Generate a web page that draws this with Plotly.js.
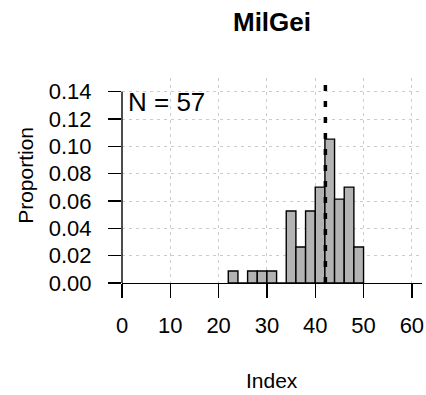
<!DOCTYPE html>
<html>
<head>
<meta charset="utf-8">
<script src="https://cdn.plot.ly/plotly-3.0.1.min.js"></script>
<style>
  html, body { margin: 0; padding: 0; background: #ffffff; }
  #chart { width: 426px; height: 395px; }
</style>
</head>
<body>
<div id="chart"></div>
<script>
// Histogram of the MilGei index: bins of width 2, counts per bin
const binStarts = [22, 24, 26, 28, 30, 32, 34, 36, 38, 40, 42, 44, 46, 48];
const binCounts = [1, 0, 1, 1, 1, 0, 6, 3, 6, 8, 12, 7, 8, 3];
const binWidth = 2;
const sampleSize = 57;
const referenceLine = 42.1;
const xTicks = [0, 10, 20, 30, 40, 50, 60];
const yTicks = [0, 0.02, 0.04, 0.06, 0.08, 0.10, 0.12, 0.14];
const yTickText = ['0.00', '0.02', '0.04', '0.06', '0.08', '0.10', '0.12', '0.14'];

const binCenters = binStarts.map(s => s + binWidth / 2);
const proportions = binCounts.map(c => c / (sampleSize * binWidth));

const font = 'Liberation Sans, Arial, sans-serif';

const bars = {
  type: 'bar',
  x: binCenters,
  y: proportions,
  width: binWidth,
  marker: { color: '#b3b3b3', line: { color: '#000000', width: 1.4 } },
  hoverinfo: 'skip'
};

const layout = {
  width: 426,
  height: 395,
  margin: { l: 122, r: 4, t: 78, b: 112, pad: 0 },
  paper_bgcolor: '#ffffff',
  plot_bgcolor: '#ffffff',
  showlegend: false,
  font: { family: font, color: '#000000' },
  title: {
    text: '<b>MilGei</b>',
    font: { family: font, size: 26, color: '#000000' },
    x: 0.5, xref: 'paper',
    y: 1 - 22 / 395, yref: 'container', yanchor: 'middle'
  },
  xaxis: {
    range: [0, 62.1],
    tickvals: xTicks,
    ticktext: xTicks.map(String),
    ticks: 'outside', ticklen: 14, tickwidth: 1.4, tickcolor: '#000000',
    tickfont: { family: font, size: 22, color: '#000000' },
    ticklabelstandoff: 8,
    showline: true, linecolor: '#000000', linewidth: 1.4,
    showgrid: true, gridcolor: '#cccccc', gridwidth: 1, griddash: '3px,4px',
    zeroline: false, fixedrange: true
  },
  yaxis: {
    range: [0, 0.15],
    tickvals: yTicks,
    ticktext: yTickText,
    ticks: 'outside', ticklen: 13, tickwidth: 1.4, tickcolor: '#000000',
    tickfont: { family: font, size: 22, color: '#000000' },
    ticklabelstandoff: 12,
    showline: false,
    showgrid: true, gridcolor: '#cccccc', gridwidth: 1, griddash: '3px,4px',
    zeroline: false, fixedrange: true
  },
  shapes: [
    // left axis line, only up to the last tick
    { type: 'line', xref: 'paper', yref: 'y', x0: 0, x1: 0, y0: 0, y1: 0.14,
      line: { color: '#000000', width: 1.4 } },
    // dotted reference line
    { type: 'line', xref: 'x', yref: 'paper', x0: referenceLine, x1: referenceLine, y0: 0, y1: 1,
      line: { color: '#000000', width: 3.5, dash: '6px,10px' } }
  ],
  annotations: [
    { text: 'N = ' + sampleSize, xref: 'x', yref: 'y', x: 0.9, y: 0.1327,
      xanchor: 'left', yanchor: 'middle', showarrow: false,
      font: { family: font, size: 26, color: '#000000' } },
    { text: 'Index', xref: 'paper', yref: 'paper', x: 0.5, y: 0,
      xanchor: 'center', yanchor: 'middle', yshift: -97, showarrow: false,
      font: { family: font, size: 21, color: '#000000' } },
    { text: 'Proportion', xref: 'paper', yref: 'paper', x: 0, y: (283.3 - 176) / 205.3,
      xanchor: 'center', yanchor: 'middle', xshift: -96, textangle: -90, showarrow: false,
      font: { family: font, size: 21, color: '#000000' } }
  ]
};

Plotly.newPlot('chart', [bars], layout, { displayModeBar: false, staticPlot: true });
</script>
</body>
</html>
